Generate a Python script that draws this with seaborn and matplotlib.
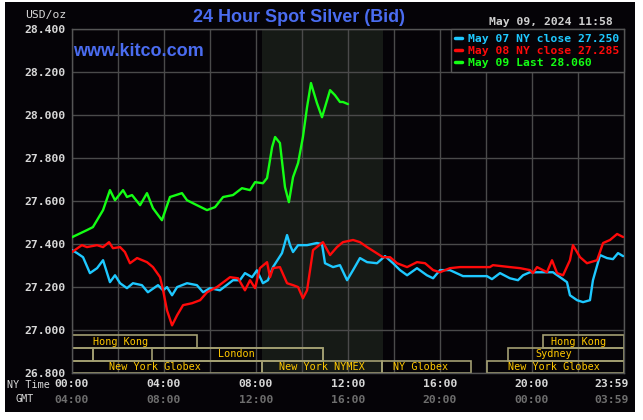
import numpy as np
import pandas as pd
import matplotlib
matplotlib.use("Agg")
import matplotlib.pyplot as plt
import seaborn as sns
from matplotlib.patches import Rectangle
from matplotlib.transforms import ScaledTranslation, blended_transform_factory

# ---------------- data (hours NY time, price USD/oz) ----------------
may07_hours = [0.00, 0.22, 0.48, 0.78, 1.09, 1.35, 1.65, 1.87, 2.09, 2.39, 2.65, 3.04, 3.30, 3.74,
               3.96, 4.13, 4.35, 4.57, 5.00, 5.43, 5.70, 6.00, 6.43, 7.00, 7.30, 7.52, 7.83, 8.04,
               8.30, 8.52, 8.74, 9.13, 9.35, 9.48, 9.61, 9.83, 10.22, 10.65, 10.87, 11.00, 11.35,
               11.65, 11.96, 12.22, 12.52, 12.83, 13.26, 13.61, 13.96, 14.26, 14.57, 15.00, 15.43,
               15.70, 16.00, 16.43, 17.00, 17.43, 18.04, 18.26, 18.61, 19.04, 19.39, 19.61, 19.91,
               20.35, 20.91, 21.22, 21.52, 21.65, 21.96, 22.22, 22.52, 22.65, 22.96, 23.26, 23.52,
               23.74, 23.96]
may07_price = [27.373, 27.359, 27.340, 27.266, 27.289, 27.326, 27.224, 27.256, 27.219, 27.196,
               27.219, 27.210, 27.177, 27.210, 27.186, 27.201, 27.163, 27.201, 27.219, 27.210,
               27.177, 27.196, 27.186, 27.233, 27.233, 27.266, 27.247, 27.279, 27.219, 27.233,
               27.294, 27.359, 27.443, 27.396, 27.364, 27.396, 27.396, 27.406, 27.401, 27.312,
               27.294, 27.303, 27.233, 27.280, 27.336, 27.317, 27.312, 27.345, 27.312, 27.280,
               27.256, 27.289, 27.256, 27.242, 27.280, 27.280, 27.252, 27.252, 27.252, 27.238,
               27.266, 27.242, 27.233, 27.256, 27.270, 27.270, 27.270, 27.247, 27.224, 27.163,
               27.140, 27.131, 27.140, 27.233, 27.350, 27.336, 27.331, 27.359, 27.345]

may08_hours = [0.00, 0.43, 0.65, 1.09, 1.35, 1.61, 1.78, 2.09, 2.30, 2.52, 2.83, 3.26, 3.52, 3.83,
               3.96, 4.13, 4.35, 4.57, 4.83, 5.22, 5.57, 5.87, 6.30, 6.87, 7.22, 7.52, 7.74, 7.96,
               8.17, 8.48, 8.61, 8.74, 9.04, 9.35, 9.61, 9.83, 10.04, 10.22, 10.48, 10.91, 11.22,
               11.52, 11.78, 12.22, 12.52, 12.83, 13.17, 13.52, 13.83, 14.13, 14.57, 15.00, 15.35,
               15.70, 16.00, 16.43, 16.87, 18.17, 18.30, 19.04, 19.48, 19.91, 20.04, 20.22, 20.65,
               20.87, 21.09, 21.35, 21.65, 21.78, 22.09, 22.39, 22.83, 23.09, 23.39, 23.70, 23.96]
may08_price = [27.364, 27.396, 27.387, 27.396, 27.387, 27.410, 27.382, 27.387, 27.364, 27.312,
               27.336, 27.317, 27.294, 27.247, 27.186, 27.093, 27.023, 27.070, 27.117, 27.126,
               27.140, 27.177, 27.201, 27.247, 27.242, 27.186, 27.233, 27.196, 27.289, 27.317,
               27.247, 27.289, 27.294, 27.219, 27.210, 27.201, 27.149, 27.186, 27.373, 27.410,
               27.350, 27.387, 27.410, 27.420, 27.410, 27.387, 27.364, 27.340, 27.340, 27.312,
               27.294, 27.317, 27.312, 27.280, 27.270, 27.289, 27.294, 27.294, 27.303, 27.294,
               27.289, 27.280, 27.266, 27.294, 27.270, 27.326, 27.266, 27.256, 27.326, 27.396,
               27.340, 27.312, 27.326, 27.406, 27.420, 27.448, 27.434]

may09_hours = [0.00, 0.65, 0.91, 1.35, 1.65, 1.87, 2.22, 2.39, 2.61, 2.96, 3.26, 3.52, 3.91, 4.26,
               4.78, 5.00, 5.43, 5.87, 6.22, 6.57, 7.00, 7.39, 7.74, 7.96, 8.30, 8.48, 8.70, 8.83,
               9.04, 9.26, 9.43, 9.61, 9.83, 10.04, 10.22, 10.39, 10.48, 10.65, 10.87, 11.00, 11.22,
               11.43, 11.65, 11.78, 12.00]
may09_price = [27.433, 27.466, 27.480, 27.559, 27.652, 27.605, 27.652, 27.620, 27.629, 27.582,
               27.638, 27.568, 27.512, 27.620, 27.638, 27.605, 27.582, 27.559, 27.573, 27.620,
               27.629, 27.661, 27.652, 27.689, 27.684, 27.708, 27.852, 27.899, 27.871, 27.666,
               27.596, 27.712, 27.778, 27.899, 28.038, 28.150, 28.117, 28.057, 27.991, 28.038,
               28.117, 28.094, 28.062, 28.062, 28.052]

series_labels = ["May 07 NY close 27.250", "May 08 NY close 27.285", "May 09 Last 28.060"]
series_colors = ["#1ec8ff", "#ff0a0a", "#14ff14"]

y_ticks = [26.8, 27.0, 27.2, 27.4, 27.6, 27.8, 28.0, 28.2, 28.4]
ny_tick_hours = [0, 4, 8, 12, 16, 20, 24]
ny_tick_labels = ["00:00", "04:00", "08:00", "12:00", "16:00", "20:00", "23:59"]
gmt_tick_labels = ["04:00", "08:00", "12:00", "16:00", "20:00", "00:00", "03:59"]

# market sessions: (name, start hour, end hour, row, label hour)
sess_names = ["Hong Kong", "", "", "London", "New York Globex", "New York NYMEX", "NY Globex",
              "New York Globex", "Sydney", "Hong Kong"]
sess_start = [0.0, 0.0, 0.91, 3.48, 0.0, 8.26, 13.48, 18.04, 18.96, 20.48]
sess_end = [5.43, 0.91, 10.91, 10.91, 8.26, 13.48, 17.35, 24.0, 24.0, 24.0]
sess_row = [0, 1, 1, 1, 2, 2, 2, 2, 1, 0]
sess_label_x = [2.09, 0, 0, 7.13, 3.61, 10.87, 15.17, 20.96, 20.96, 22.04]
nymex_span = (8.26, 13.52)

# ---------------- style ----------------
BG = "#050307"
sns.set_style("dark", rc={"axes.facecolor": BG, "grid.color": "#4a4a4a"})
plt.rcParams["font.family"] = ["DejaVu Sans"]
MONO = "DejaVu Sans Mono"
FS = 8.2

fig = plt.figure(figsize=(6.43, 4.20), dpi=100, facecolor="white")
fig.patches.append(Rectangle((5 / 643, 8 / 420), 630 / 643, 410 / 420, transform=fig.transFigure,
                             facecolor=BG, edgecolor="none", zorder=-10))
ax = fig.add_axes([72 / 643, 1 - 373.3 / 420, 552 / 643, (373.3 - 29.3) / 420])
ax.set_facecolor(BG)

ax.axvspan(*nymex_span, color="#161a16", zorder=0, lw=0)

for hrs, prc, lab, col in zip([may07_hours, may08_hours, may09_hours],
                              [may07_price, may08_price, may09_price],
                              series_labels, series_colors):
    df = pd.DataFrame({"hour": hrs, "price": prc})
    sns.lineplot(data=df, x="hour", y="price", ax=ax, color=col, lw=1.7, label=lab,
                 estimator=None, sort=False, zorder=3)

# sessions
row_bottom = [26.917, 26.858, 26.800]
row_h = 0.0595
for name, s, e, r, lx in zip(sess_names, sess_start, sess_end, sess_row, sess_label_x):
    ax.barh(row_bottom[r] + row_h / 2, e - s, left=s, height=row_h, facecolor="none",
            edgecolor="#a39f72", lw=1.2, zorder=2)
    if name:
        ax.text(lx, row_bottom[r] + row_h / 2, name, color="#ffc800", fontsize=7.3,
                family=MONO, ha="center", va="center", zorder=4)

ax.set_xlim(0, 24)
ax.set_ylim(26.8, 28.4)
ax.set_xticks(ny_tick_hours)
ax.set_xticklabels(ny_tick_labels)
ax.set_xticks(np.arange(0, 25, 2), minor=True)
ax.set_yticks(y_ticks)
ax.set_yticklabels([f"{v:.3f}" for v in y_ticks])
ax.grid(True, which="both", color="#4a4a4a", lw=1, zorder=1)
ax.set_axisbelow(True)
ax.tick_params(axis="both", which="both", length=0, colors="#d8d8d8")
ax.tick_params(axis="y", pad=4.5)
ax.tick_params(axis="x", pad=4)
for lbl in ax.get_xticklabels() + ax.get_yticklabels():
    lbl.set_family(MONO)
    lbl.set_fontweight("bold")
    lbl.set_fontsize(FS)
    lbl.set_color("#d8d8d8")
last = ax.get_xticklabels()[-1]
last.set_transform(last.get_transform() + ScaledTranslation(-0.12, 0, fig.dpi_scale_trans))
ax.set_xlabel("")
ax.set_ylabel("")
for sp in ax.spines.values():
    sp.set_color("#555555")
    sp.set_linewidth(1)
    sp.set_visible(True)

# GMT row
trans = blended_transform_factory(ax.transData, fig.transFigure)
for h, g in zip(ny_tick_hours, gmt_tick_labels):
    off = -0.12 if h == 24 else 0
    ax.text(h, 1 - 400 / 420, g, transform=trans + ScaledTranslation(off, 0, fig.dpi_scale_trans),
            ha="center", va="center", family=MONO, fontweight="bold", fontsize=FS, color="#6e6e6e")
fig.text(7 / 643, 1 - 385 / 420, "NY Time", family=MONO, fontsize=7.3, color="#d8d8d8",
         ha="left", va="center")
fig.text(16 / 643, 1 - 399.5 / 420, "GMT", family=MONO, fontsize=7.3, color="#d8d8d8",
         ha="left", va="center")
fig.text(25 / 643, 1 - 15 / 420, "USD/oz", family=MONO, fontsize=FS, color="#d8d8d8",
         ha="left", va="center")

# titles
fig.text(299 / 643, 1 - 17 / 420, "24 Hour Spot Silver (Bid)", family="Liberation Sans",
         fontweight="bold", fontsize=13, color="#4a6cf0", ha="center", va="center")
ax.text(73 / 643, 1 - 51 / 420, "www.kitco.com", transform=fig.transFigure, family="Liberation Sans",
        fontweight="bold", fontsize=13, color="#4a6cf0", ha="left", va="center", zorder=5)
fig.text(613 / 643, 1 - 22 / 420, "May 09, 2024 11:58", family=MONO, fontweight="bold",
         fontsize=FS, color="#d0d0d0", ha="right", va="center")

leg = ax.legend(loc="upper right", borderaxespad=0, frameon=True, fancybox=False,
                facecolor=BG, edgecolor="#555555", framealpha=1, handlelength=0.6,
                handletextpad=0.55, labelspacing=0.16, borderpad=0.4,
                prop={"family": MONO, "weight": "bold", "size": FS}, labelcolor="linecolor")
leg.set_zorder(6)
for line in leg.get_lines():
    line.set_linewidth(2.5)

fig.savefig("out.png", dpi=100, facecolor="white")
